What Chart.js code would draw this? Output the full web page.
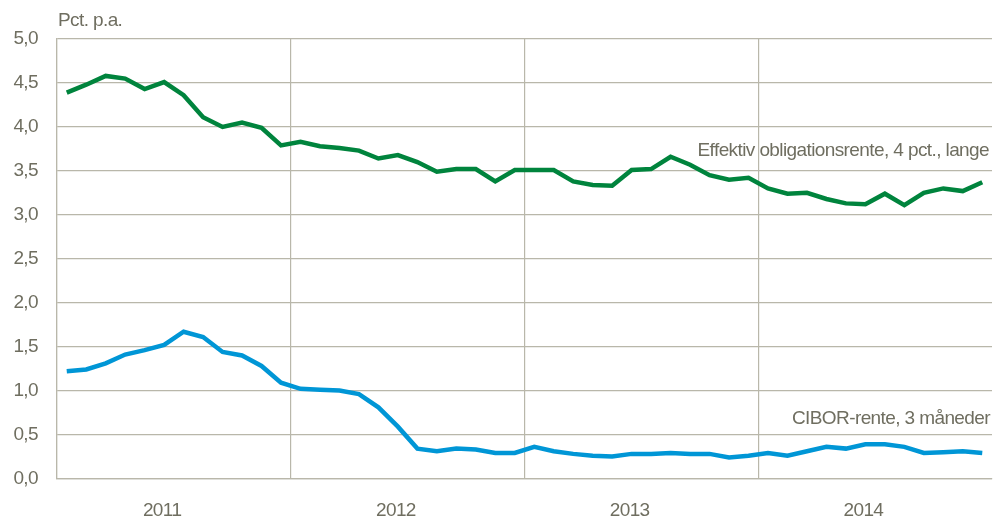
<!DOCTYPE html>
<html>
<head>
<meta charset="utf-8">
<script src="https://cdn.jsdelivr.net/npm/chart.js@4/dist/chart.umd.min.js"></script>
<style>
  html, body { margin: 0; padding: 0; background: #fff; }
  #wrap { width: 993px; height: 517px; position: relative; }
</style>
</head>
<body>
<div id="wrap"><canvas id="rateChart"></canvas></div>
<script>
const years = ['2011', '2012', '2013', '2014'];
const months = [];
years.forEach(y => { for (let m = 1; m <= 12; m++) months.push(y + '-' + m); });

const bondRate = [
  4.39, 4.48, 4.58, 4.55, 4.43, 4.51, 4.36, 4.11, 4.00, 4.05, 3.99, 3.79,
  3.83, 3.78, 3.76, 3.73, 3.64, 3.68, 3.60, 3.49, 3.52, 3.52, 3.38, 3.51,
  3.51, 3.51, 3.38, 3.34, 3.33, 3.51, 3.52, 3.66, 3.57, 3.45, 3.40, 3.42,
  3.30, 3.24, 3.25, 3.18, 3.13, 3.12, 3.24, 3.11, 3.25, 3.30, 3.27, 3.37
];
const ciborRate = [
  1.22, 1.24, 1.31, 1.41, 1.46, 1.52, 1.67, 1.61, 1.44, 1.40, 1.28, 1.09,
  1.02, 1.01, 1.00, 0.96, 0.81, 0.59, 0.34, 0.31, 0.34, 0.33, 0.29, 0.29,
  0.36, 0.31, 0.28, 0.26, 0.25, 0.28, 0.28, 0.29, 0.28, 0.28, 0.24, 0.26,
  0.29, 0.26, 0.31, 0.36, 0.34, 0.39, 0.39, 0.36, 0.29, 0.30, 0.31, 0.29
];

const FONT = "'Liberation Sans Narrow', 'Arial Narrow', 'Liberation Sans', sans-serif";
const TEXT = '#6f6e60';
const GRID = '#b9b7aa';

// narrow-ish text: the original uses a condensed face we don't have
const tightText = {
  id: 'tightText',
  beforeDraw(chart) {
    chart.ctx.letterSpacing = '-0.6px';
  }
};

// series labels drawn next to the lines
const seriesLabels = {
  id: 'seriesLabels',
  afterDraw(chart) {
    const ctx = chart.ctx;
    const y = chart.scales.y;
    ctx.save();
    ctx.font = '19px ' + FONT;
    ctx.fillStyle = TEXT;
    ctx.textAlign = 'right';
    ctx.textBaseline = 'middle';
    ctx.fillText('Effektiv obligationsrente, 4 pct., lange', 989, y.getPixelForValue(3.73));
    ctx.fillText('CIBOR-rente, 3 måneder', 990, y.getPixelForValue(0.68));
    ctx.textAlign = 'left';
    ctx.fillText('Pct. p.a.', 58, 21);
    ctx.restore();
  }
};

new Chart(document.getElementById('rateChart'), {
  type: 'line',
  data: {
    labels: months,
    datasets: [
      { data: bondRate, borderColor: '#00843d', borderWidth: 4.5, pointRadius: 0, tension: 0 },
      { data: ciborRate, borderColor: '#0096d6', borderWidth: 4.5, pointRadius: 0, tension: 0 }
    ]
  },
  options: {
    responsive: true,
    maintainAspectRatio: false,
    animation: false,
    layout: { padding: { top: 39, right: 1, left: 0, bottom: 0 } },
    plugins: { legend: { display: false }, tooltip: { enabled: false } },
    scales: {
      x: {
        offset: true,
        grid: {
          offset: true,
          drawTicks: false,
          color: ctx => (ctx.index % 12 === 0 ? GRID : 'rgba(0,0,0,0)'),
          lineWidth: 1.2
        },
        border: { color: GRID, width: 1.2 },
        ticks: {
          autoSkip: false,
          maxRotation: 0,
          padding: 21,
          labelOffset: -2,
          color: TEXT,
          font: { family: FONT, size: 19 },
          callback: (v, i) => (i % 12 === 5 ? years[Math.floor(i / 12)] : '')
        },
        afterFit: s => { s.height = 38.5; s.paddingLeft = 0; s.paddingRight = 0; }
      },
      y: {
        min: 0,
        max: 5,
        ticks: {
          stepSize: 0.5,
          padding: 19,
          color: TEXT,
          font: { family: FONT, size: 19 },
          callback: v => v.toFixed(1).replace('.', ',')
        },
        grid: { color: GRID, lineWidth: 1.2, drawTicks: false },
        border: { color: GRID, width: 1.2 },
        afterFit: s => { s.width = 57; }
      }
    }
  },
  plugins: [tightText, seriesLabels]
});
</script>
</body>
</html>
